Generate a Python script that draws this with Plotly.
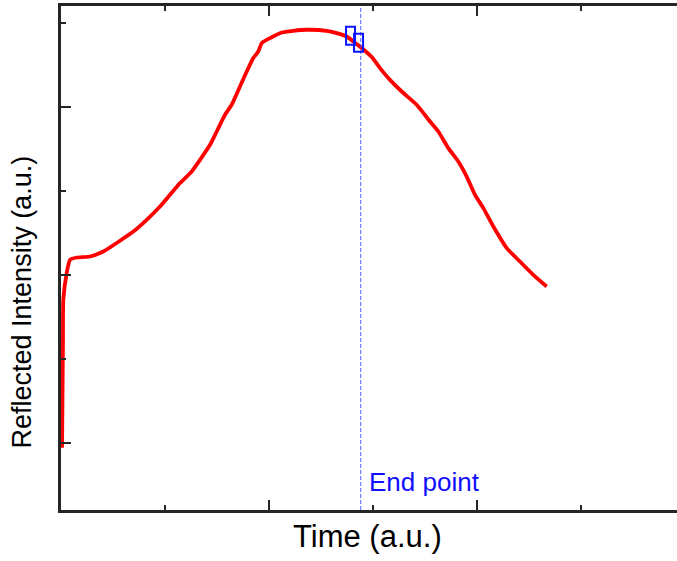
import plotly.graph_objects as go

# Reflected intensity curve (arbitrary units)
time_au = [0.010, 0.014, 0.019, 0.022, 0.055, 0.087, 0.151, 0.279, 0.407, 0.567,
           0.695, 0.824, 0.952, 1.048, 1.144, 1.257, 1.337, 1.433, 1.497, 1.577,
           1.641, 1.721, 1.786, 1.849, 1.897, 1.930, 2.010, 2.122, 2.234, 2.363,
           2.555, 2.651, 2.747, 2.811, 2.891, 2.988, 3.067, 3.163, 3.276, 3.420,
           3.548, 3.628, 3.724, 3.820, 3.901, 3.981, 4.061, 4.157, 4.286, 4.413,
           4.541, 4.670]
intensity = [0.940, 1.512, 2.226, 2.702, 3.024, 3.179, 3.206, 3.218, 3.277, 3.405,
             3.515, 3.655, 3.813, 3.952, 4.092, 4.230, 4.369, 4.548, 4.706, 4.905,
             5.024, 5.242, 5.420, 5.580, 5.658, 5.758, 5.818, 5.885, 5.905, 5.917,
             5.905, 5.877, 5.837, 5.777, 5.699, 5.592, 5.461, 5.321, 5.182, 5.024,
             4.825, 4.706, 4.508, 4.349, 4.170, 3.952, 3.794, 3.575, 3.318, 3.158,
             3.000, 2.861]

# End-point markers and vertical marker line
end_marker_x = [2.784, 2.861]
end_marker_y = [5.845, 5.762]
end_point_x = 2.882
end_label = "End point"

x_title = "Time (a.u.)"
y_title = "Reflected Intensity (a.u.)"

FONT = "Arial, Liberation Sans, sans-serif"
AXC = "#262626"

fig = go.Figure()
fig.add_trace(go.Scatter(
    x=time_au, y=intensity, mode="lines",
    line=dict(color="#ff0000", width=3.8, shape="spline", smoothing=0.5),
    showlegend=False, hoverinfo="skip"))

shapes = [dict(type="line", xref="x", yref="paper", x0=end_point_x, x1=end_point_x,
               y0=0, y1=1, line=dict(color="rgba(50,70,255,0.85)", width=1, dash="4px,2px"),
               layer="above")]
for mx, my in zip(end_marker_x, end_marker_y):
    shapes.append(dict(type="rect", xref="x", yref="y", xsizemode="pixel", ysizemode="pixel",
                       xanchor=mx, yanchor=my, x0=-4.5, x1=4.5, y0=-9, y1=9,
                       line=dict(color="#0a14ff", width=2), fillcolor="rgba(0,0,0,0)",
                       layer="above"))

annotations = [
    dict(text=x_title, xref="paper", yref="paper", x=0.497, y=-0.0516,
         xanchor="center", yanchor="middle", showarrow=False,
         font=dict(family=FONT, size=31, color="#000")),
    dict(text=y_title, xref="paper", yref="paper", x=-0.0617, y=0.4137,
         xanchor="center", yanchor="middle", showarrow=False, textangle=-90,
         font=dict(family=FONT, size=27, color="#000")),
    dict(text=end_label, xref="x", yref="y", x=2.94, y=0.536,
         xanchor="left", yanchor="middle", showarrow=False,
         font=dict(family=FONT, size=26, color="#1010ff")),
]

fig.update_layout(
    width=677, height=561,
    margin=dict(l=61, r=0, t=6, b=51),
    paper_bgcolor="white", plot_bgcolor="white",
    shapes=shapes, annotations=annotations,
    xaxis=dict(range=[0, 616 / 104], showgrid=False, zeroline=False,
               showline=True, linecolor=AXC, linewidth=2.5, mirror="ticks",
               ticks="inside", ticklen=10, tickwidth=2, tickcolor=AXC,
               tick0=0, dtick=2, showticklabels=False,
               minor=dict(dtick=1, tick0=0, ticks="inside", ticklen=5,
                          tickwidth=2, tickcolor=AXC, showgrid=False)),
    yaxis=dict(range=[0.2, 6.2], showgrid=False, zeroline=False,
               showline=True, linecolor=AXC, linewidth=2.5, mirror=False,
               ticks="inside", ticklen=10, tickwidth=2, tickcolor=AXC,
               tick0=1, dtick=2, showticklabels=False,
               minor=dict(dtick=1, tick0=1, ticks="inside", ticklen=5,
                          tickwidth=2, tickcolor=AXC, showgrid=False)),
)

fig.write_html("out.html")
